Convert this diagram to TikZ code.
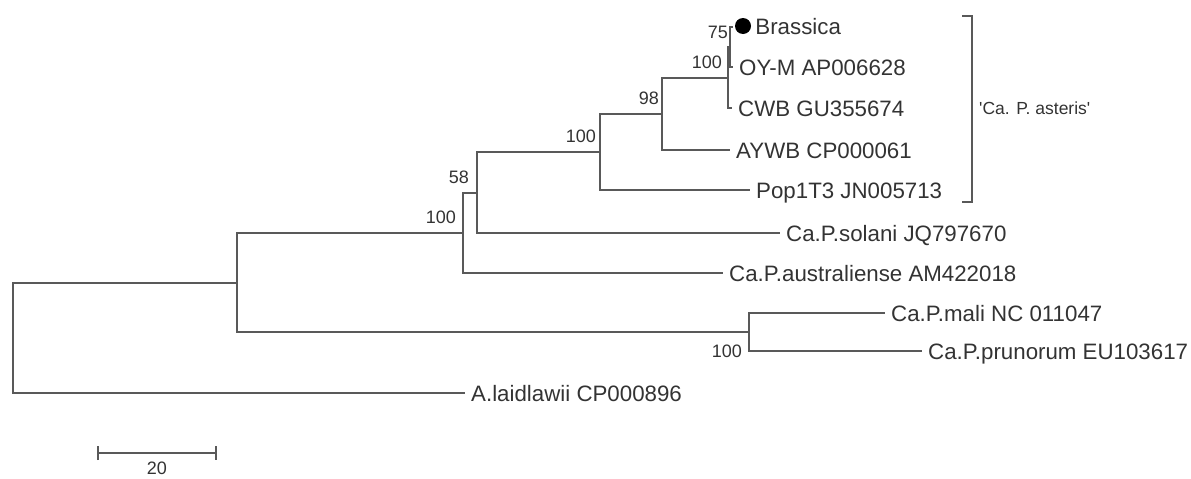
\documentclass[tikz,border=0pt]{standalone}
\usepackage{fontspec}
\setmainfont{Liberation Sans}
\usetikzlibrary{arrows.meta,positioning}

\begin{document}
\begin{tikzpicture}[x=1pt, y=-1pt,
  branch/.style={draw=black!65, line width=2.2pt},
  leaf/.style={anchor=west, inner xsep=6pt, inner ysep=0pt, text height=16pt,
               text depth=0pt, font=\fontsize{22.3}{26}\selectfont, text=black!80},
  boot/.style={anchor=east, inner sep=0pt, font=\fontsize{18}{20}\selectfont, text=black!80},
  dotmark/.style={circle, fill=black, minimum size=16pt, inner sep=0pt}]
\useasboundingbox (0,0) rectangle (1191,479);
\coordinate (root) at (13,338);
\coordinate (nIn) at (237,283);
\coordinate (nPh) at (463,233);
\coordinate (n58) at (477,193);
\coordinate (n100a) at (600,152);
\coordinate (n98) at (662,114);
\coordinate (n100b) at (728,78);
\coordinate (n75) at (730,47);
\coordinate (nMP) at (749,332);
\coordinate (bras) at (733,27);
\node[dotmark] (bdot) at (743,26) {};
\node[leaf, inner xsep=0pt, right=4pt of bdot] (lBras) {Brassica};
\node[leaf] (lOYM) at (733,67) {OY-M AP006628};
\node[leaf] (lCWB) at (732,108) {CWB GU355674};
\node[leaf] (lAYWB) at (730,150) {AYWB CP000061};
\node[leaf] (lPop) at (750,190) {Pop1T3 JN005713};
\node[leaf] (lSol) at (780,233) {Ca.P.solani JQ797670};
\node[leaf] (lAus) at (723,273) {Ca.P.australiense AM422018};
\node[leaf] (lMali) at (885,313) {Ca.P.mali NC 011047};
\node[leaf] (lPru) at (922,351) {Ca.P.prunorum EU103617};
\node[leaf] (lLaid) at (465,393) {A.laidlawii CP000896};
\node[boot] (b75) at (728,32) {75};
\node[boot] (b100b) at (722,62) {100};
\node[boot] (b98) at (659,98) {98};
\node[boot] (b100a) at (596,136) {100};
\node[boot] (b58) at (469,177) {58};
\node[boot] (bPh) at (456,217) {100};
\node[boot] (bMP) at (742,351) {100};
\draw[branch] (root) |- (nIn);
\draw[branch] (root) |- (lLaid.west);
\draw[branch] (nIn) |- (nPh);
\draw[branch] (nIn) |- (nMP);
\draw[branch] (nPh) |- (n58);
\draw[branch] (nPh) |- (lAus.west);
\draw[branch] (n58) |- (n100a);
\draw[branch] (n58) |- (lSol.west);
\draw[branch] (n100a) |- (n98);
\draw[branch] (n100a) |- (lPop.west);
\draw[branch] (n98) |- (n100b);
\draw[branch] (n98) |- (lAYWB.west);
\draw[branch] (n100b) |- (n75);
\draw[branch] (n100b) |- (lCWB.west);
\draw[branch] (n75) |- (bras);
\draw[branch] (n75) |- (lOYM.west);
\draw[branch] (nMP) |- (lMali.west);
\draw[branch] (nMP) |- (lPru.west);
\coordinate (brTop) at (962,16);
\coordinate (brBot) at (962,202);
\draw[branch, line width=2pt] (brTop) -- ++(10,0) |- (brBot);
\node[anchor=west, inner sep=0pt, font=\fontsize{17.5}{20}\selectfont, text=black!80]
  (asteris) at (979,108) {\textquotesingle Ca. P. asteris\textquotesingle};
\coordinate (sbL) at (97,453);
\coordinate (sbR) at (217,453);
\draw[branch, line width=1.8pt, {Bar[width=14pt]}-{Bar[width=14pt]}] (sbL) -- (sbR);
\node[boot, anchor=north] (sbText) at (157,462) {20};
\end{tikzpicture}
\end{document}
